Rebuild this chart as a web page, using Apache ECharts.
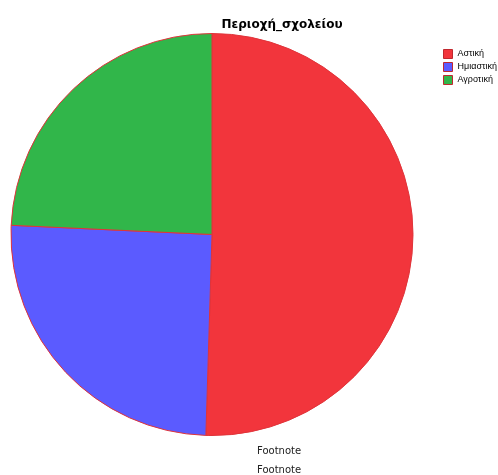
<!DOCTYPE html>
<html>
<head>
<meta charset="utf-8">
<script src="https://cdn.jsdelivr.net/npm/echarts@6/dist/echarts.min.js"></script>
<style>
  html, body { margin: 0; padding: 0; background: #fff; }
  #chart { width: 498px; height: 475px; }
</style>
</head>
<body>
<div id="chart"></div>
<script>
// School area distribution (counts per category)
const categories = ['Αστική', 'Ημιαστική', 'Αγροτική'];
const counts = [52, 26, 25];
const colors = ['#F2353C', '#5B5BFF', '#31B64A'];
const titleText = 'Περιοχή_σχολείου';
const footnotes = ['Footnote', 'Footnote'];

const chart = echarts.init(document.getElementById('chart'), null, { renderer: 'canvas' });

const data = categories.map((name, i) => ({
  name: name,
  value: counts[i],
  itemStyle: { color: colors[i] }
}));

chart.setOption({
  animation: false,
  backgroundColor: '#ffffff',
  title: {
    text: titleText,
    left: 277,
    top: 14,
    textAlign: 'center',
    textStyle: {
      fontFamily: 'DejaVu Sans',
      fontSize: 12,
      fontWeight: 'bold',
      color: '#000'
    }
  },
  legend: {
    orient: 'vertical',
    left: 438,
    top: 44,
    itemWidth: 9,
    itemHeight: 9,
    itemGap: 3,
    icon: 'rect',
    itemStyle: { borderColor: '#c0282e', borderWidth: 1 },
    textStyle: { fontFamily: 'Liberation Sans', fontSize: 9, color: '#000' },
    data: categories
  },
  series: [{
    type: 'pie',
    center: [212, 234.5],
    radius: 201,
    startAngle: 90,
    clockwise: true,
    label: { show: false },
    labelLine: { show: false },
    emphasis: { disabled: true },
    itemStyle: { borderColor: '#e0343a', borderWidth: 1 },
    data: data
  }],
  graphic: footnotes.map((t, i) => ({
    type: 'text',
    left: 257,
    top: 446 + i * 19,
    style: {
      text: t,
      fontFamily: 'DejaVu Sans',
      fontSize: 10,
      fill: '#222'
    }
  }))
});
</script>
</body>
</html>
